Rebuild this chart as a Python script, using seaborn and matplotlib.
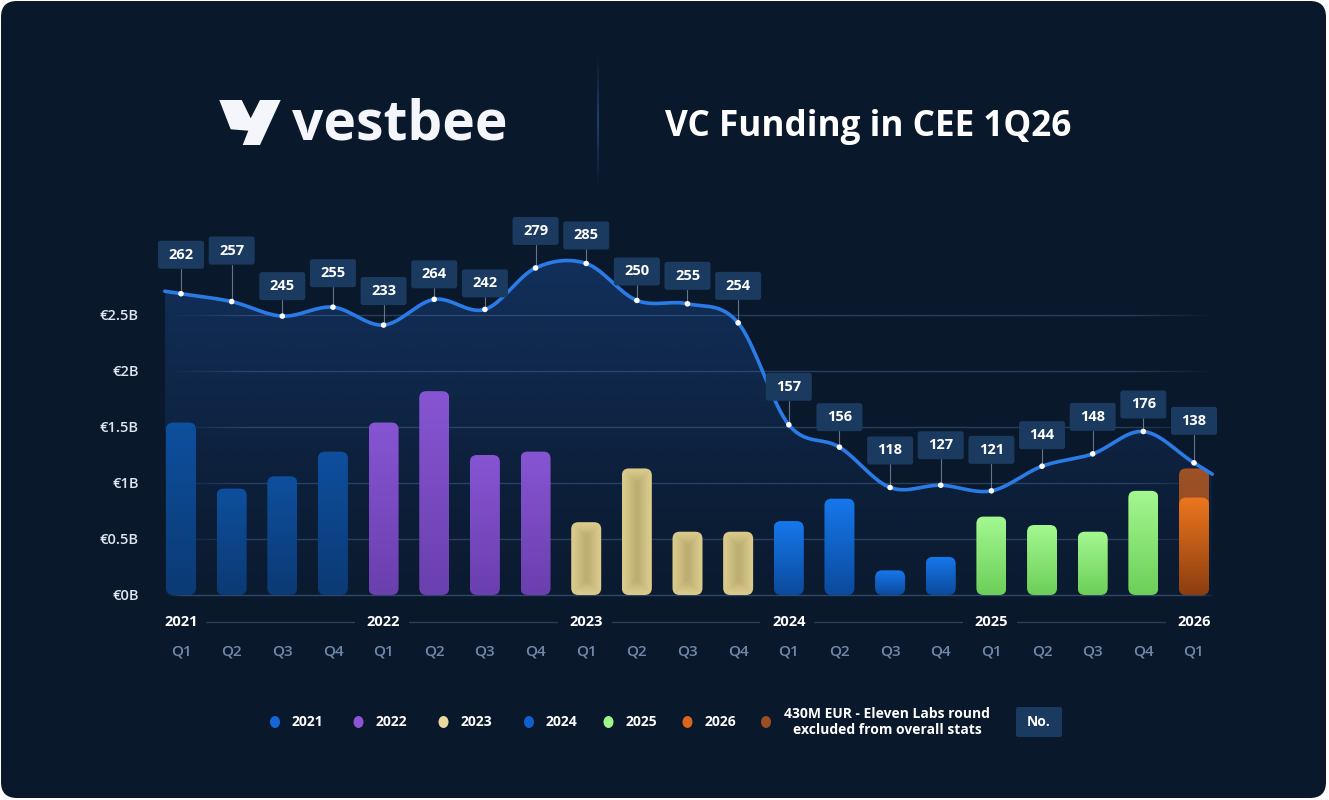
import numpy as np
import pandas as pd
import matplotlib
matplotlib.use("Agg")
import matplotlib.pyplot as plt
import seaborn as sns
from matplotlib.patches import FancyBboxPatch, Polygon, Ellipse
from matplotlib.collections import LineCollection
from matplotlib.colors import to_rgba

# ---- data ----
years = ["2021"] * 4 + ["2022"] * 4 + ["2023"] * 4 + ["2024"] * 4 + ["2025"] * 4 + ["2026"]
quarters = ["Q1", "Q2", "Q3", "Q4"] * 5 + ["Q1"]
funding_b = [1.54, 0.95, 1.06, 1.28, 1.54, 1.82, 1.25, 1.28, 0.65, 1.13, 0.565,
             0.565, 0.66, 0.86, 0.22, 0.34, 0.70, 0.625, 0.565, 0.93, 0.87]
excluded_b = [0] * 20 + [0.26]  # Eleven Labs round, shown on top of 2026 Q1
trend_b = [2.69, 2.62, 2.49, 2.57, 2.41, 2.64, 2.55, 2.92, 2.96, 2.63, 2.60,
           2.43, 1.52, 1.32, 0.96, 0.98, 0.93, 1.15, 1.26, 1.46, 1.18]
deals = [262, 257, 245, 255, 233, 264, 242, 279, 285, 250, 255,
         254, 157, 156, 118, 127, 121, 144, 148, 176, 138]
ytick_vals = [0, 0.5, 1, 1.5, 2, 2.5]
ytick_labels = ["€0B", "€0.5B", "€1B", "€1.5B", "€2B", "€2.5B"]
legend_years = ["2021", "2022", "2023", "2024", "2025", "2026"]

# ---- styling / layout (pixels) ----
W, H = 1329, 800
BG = "#0a182b"
PX0, DX = 181, 50.65      # x pixel of first bar, px per category
Y0, DY = 595, 112         # y pixel of 0B, px per 1B
AL, AR, AT, AB = 140, 1250, 190, 640
BAR_W = 30 / DX
label_lift = [39, 51, 30, 34, 34, 25, 26, 37, 28, 29, 28, 37, 38, 30, 37, 40, 41, 31, 37, 27, 42]

bar_cols = {
    "2021": ("#0e4f9e", "#0b3a74"),
    "2022": ("#8755d3", "#6a3fae"),
    "2023": ("#dacb8c", "#bcad72"),
    "2024": ("#1678ec", "#0b4a9c"),
    "2025": ("#a4f890", "#6ccf59"),
    "2026": ("#ec761d", "#8c3d10"),
}
brown = ("#9e5226", "#87431c")
legend_dot = ["#1565d8", "#8a55d6", "#eadaa0", "#115fcc", "#9ef58c", "#d9661a", "#9a4e22"]
LINE = "#2b7be6"
BOX = "#1b3a60"

sns.set_style("dark")
plt.rcParams["font.family"] = ["Open Sans", "DejaVu Sans"]

fig = plt.figure(figsize=(W / 100, H / 100), dpi=100)
fig.patch.set_facecolor("white")

bg = fig.add_axes([0, 0, 1, 1])
bg.set_xlim(0, W)
bg.set_ylim(H, 0)
bg.axis("off")
bg.add_patch(FancyBboxPatch((1, 1), W - 4, H - 3, boxstyle="round,pad=0,rounding_size=16",
                            fc=BG, ec="none"))

ax = fig.add_axes([AL / W, 1 - AB / H, (AR - AL) / W, (AB - AT) / H])
ax.set_facecolor("none")

df = pd.DataFrame({
    "period": [f"{y} {q}" for y, q in zip(years, quarters)],
    "year": years,
    "funding": funding_b,
    "total": np.array(funding_b) + np.array(excluded_b),
})

n0 = len(ax.patches)
sns.barplot(data=df, x="period", y="total", color="k", width=BAR_W, errorbar=None, ax=ax)
total_patches = list(ax.patches[n0:])
n1 = len(ax.patches)
sns.barplot(data=df, x="period", y="funding", hue="year", palette=[c[0] for c in bar_cols.values()],
            dodge=False, width=BAR_W, errorbar=None, legend=False, ax=ax)
main_patches = list(ax.patches[n1:])

asp = DX / DY


def grad_bar(x0, w, h, top, bottom, z, glow=False):
    clip = FancyBboxPatch((x0, 0), w, h, boxstyle="round,pad=0,rounding_size=0.14",
                          mutation_aspect=asp, fc="none", ec="none")
    ax.add_patch(clip)
    ny, nx = 160, 40
    t = np.linspace(0, 1, ny)[:, None, None]
    c_top, c_bot = np.array(to_rgba(top)), np.array(to_rgba(bottom))
    if glow:
        # light edges, darker centre
        yy = np.linspace(0, h * DY, ny)[:, None]
        xx = np.linspace(0, w * DX, nx)[None, :]
        d = np.minimum(np.minimum(xx, w * DX - xx), np.minimum(yy, h * DY - yy))
        f = np.clip(d / 16, 0, 1)
        f = (f * f * (3 - 2 * f))[:, :, None]
        arr = c_top * (1 - f) + c_bot * f
    else:
        arr = c_bot * (1 - t) + c_top * t
        arr = np.repeat(arr, nx, axis=1)
    im = ax.imshow(arr, extent=[x0, x0 + w, 0, h], origin="lower", aspect="auto",
                   interpolation="bilinear", zorder=z)
    im.set_clip_path(clip)


for p in total_patches:
    i = int(round(p.get_x() + p.get_width() / 2))
    if excluded_b[i] > 0:
        grad_bar(p.get_x(), p.get_width(), p.get_height(), brown[0], brown[1], 3)
    p.remove()

for p in main_patches:
    h = p.get_height()
    if not np.isfinite(h) or h <= 0:
        p.remove()
        continue
    i = int(round(p.get_x() + p.get_width() / 2))
    top, bottom = bar_cols[years[i]]
    grad_bar(p.get_x(), p.get_width(), h, top, bottom, 4, glow=(years[i] == "2023"))
    p.remove()

# ---- smooth trend line ----
xs = np.arange(len(trend_b), dtype=float)
ys = np.array(trend_b)
m = np.gradient(ys)
cx, cy = [], []
for i in range(len(xs) - 1):
    t = np.linspace(0, 1, 30, endpoint=False)
    h00 = 2 * t**3 - 3 * t**2 + 1
    h10 = t**3 - 2 * t**2 + t
    h01 = -2 * t**3 + 3 * t**2
    h11 = t**3 - t**2
    cx.extend(xs[i] + t)
    cy.extend(h00 * ys[i] + h10 * m[i] + h01 * ys[i + 1] + h11 * m[i + 1])
cx.append(xs[-1]); cy.append(ys[-1])
x_start, x_end = -0.32, len(xs) - 1 + 0.36
cx = [x_start] + cx + [x_end]
cy = [ys[0] + m[0] * x_start] + cy + [ys[-1] + m[-1] * 0.36]
cx, cy = np.array(cx), np.array(cy)

fill = Polygon(np.column_stack([np.r_[cx, x_end, x_start], np.r_[cy, 0, 0]]),
               closed=True, fc="none", ec="none")
ax.add_patch(fill)
g = np.linspace(0, 1, 200)[:, None]
fc = np.array(to_rgba("#1d4f9a"))
farr = np.repeat(fc[None, None, :], 200, axis=0)
farr[:, 0, 3] = 0.04 + 0.40 * g[:, 0] ** 1.2
farr = np.repeat(farr, 4, axis=1)
im = ax.imshow(farr, extent=[x_start, x_end, 0, 3.0], origin="lower", aspect="auto", zorder=1)
im.set_clip_path(fill)

# gridlines, fading at the ends
for yv in ytick_vals:
    gx = np.linspace(-0.32, 20.36, 300)
    ramp = np.clip(np.minimum(gx - gx[0], gx[-1] - gx) / (0.3 if yv == 0 else 1.6), 0, 1)
    segs = [[(gx[k], yv), (gx[k + 1], yv)] for k in range(len(gx) - 1)]
    cols = [(0.32, 0.45, 0.63, (0.55 if yv == 0 else 0.42) * ramp[k]) for k in range(len(gx) - 1)]
    ax.add_collection(LineCollection(segs, colors=cols, linewidths=1.0, zorder=2))

ax.plot(cx, cy, color=LINE, lw=2.6, solid_capstyle="round", zorder=6)
sns.scatterplot(x=xs, y=ys, color="white", s=16, edgecolor="none", zorder=8, ax=ax, legend=False)

# deal-count boxes
bw, bh = 46 / DX, 28 / DY
for i, (v, d, lift) in enumerate(zip(trend_b, deals, label_lift)):
    yc = v + lift / DY
    ax.plot([i, i], [v, yc - bh / 2], color="#8c9cb3", lw=0.8, alpha=0.7, zorder=7)
    ax.add_patch(FancyBboxPatch((i - bw / 2, yc - bh / 2), bw, bh,
                                boxstyle="round,pad=0,rounding_size=0.05", mutation_aspect=asp,
                                fc=BOX, ec="none", zorder=9))
    ax.text(i, yc, str(d), ha="center", va="center", color="white", fontsize=10.5,
            fontweight="bold", zorder=10)

# year row
y_year = (Y0 - 622) / DY
first_q = [i for i, q in enumerate(quarters) if q == "Q1"]
for k, i in enumerate(first_q):
    ax.text(i, y_year, years[i], ha="center", va="center", color="white", fontsize=10.5,
            fontweight="bold", zorder=10)
    if k + 1 < len(first_q):
        ax.plot([i + 0.5, first_q[k + 1] - 0.58], [y_year, y_year], color="#2a3e5a", lw=1, zorder=2)

ax.set_xlim((AL - PX0) / DX, (AR - PX0) / DX)
ax.set_ylim((Y0 - AB) / DY, (Y0 - AT) / DY)
ax.set_xticks(range(len(quarters)))
ax.set_xticklabels(quarters, color="#6f89aa", fontsize=11, fontweight="semibold")
ax.set_yticks(ytick_vals)
ax.set_yticklabels(ytick_labels, color="#dfe6ef", fontsize=10.5, fontweight="semibold")
ax.tick_params(axis="x", length=0, pad=3)
ax.tick_params(axis="y", length=0, pad=1)
ax.set_xlabel("")
ax.set_ylabel("")
ax.grid(False)
for s in ax.spines.values():
    s.set_visible(False)

# ---- header ----
logo = [(219.3, 100), (241.7, 100), (250.7, 118.3), (260, 100), (280.7, 100),
        (260, 145), (242.7, 145), (248.3, 130.7), (230.7, 129.3)]
bg.add_patch(Polygon(logo, closed=True, fc="#f4f6fb", ec="none"))
t_logo = bg.text(292, 139, "vestbee", ha="left", va="baseline", color="#f4f6fb",
                 fontsize=36, fontweight="bold")
t_title = bg.text(665, 127, "VC Funding in CEE 1Q26", ha="left", va="center", color="white",
                  fontsize=26, fontweight="bold")
dy_ = np.linspace(55, 185, 80)
dal = np.clip(1 - np.abs(dy_ - 120) / 65, 0, 1)
bg.add_collection(LineCollection([[(598, dy_[k]), (598, dy_[k + 1])] for k in range(79)],
                                 colors=[(0.2, 0.35, 0.6, 0.6 * dal[k]) for k in range(79)],
                                 linewidths=1.5))

fig.canvas.draw()
r = fig.canvas.get_renderer()
for t, target in [(t_logo, 215), (t_title, 407)]:
    bb = t.get_window_extent(r)
    t.set_fontsize(t.get_fontsize() * target / bb.width)

# ---- legend ----
ly = 722
dot_x = [275, 358.5, 443.5, 529, 608.5, 687.5, 766]
for k, x in enumerate(dot_x):
    bg.add_patch(Ellipse((x, ly), 10, 12, fc=legend_dot[k], ec="none"))
    if k < len(legend_years):
        bg.text(x + 17, ly, legend_years[k], ha="left", va="center", color="white",
                fontsize=10, fontweight="bold")
bg.text(887, ly, "430M EUR - Eleven Labs round\nexcluded from overall stats", ha="center",
        va="center", color="white", fontsize=10, fontweight="bold", linespacing=1.2)
bg.add_patch(FancyBboxPatch((1016, 707), 46, 30, boxstyle="round,pad=0,rounding_size=2",
                            fc=BOX, ec="none"))
bg.text(1039, 722, "No.", ha="center", va="center", color="white", fontsize=10, fontweight="bold")

fig.savefig("out.png", dpi=100, facecolor=fig.get_facecolor())
